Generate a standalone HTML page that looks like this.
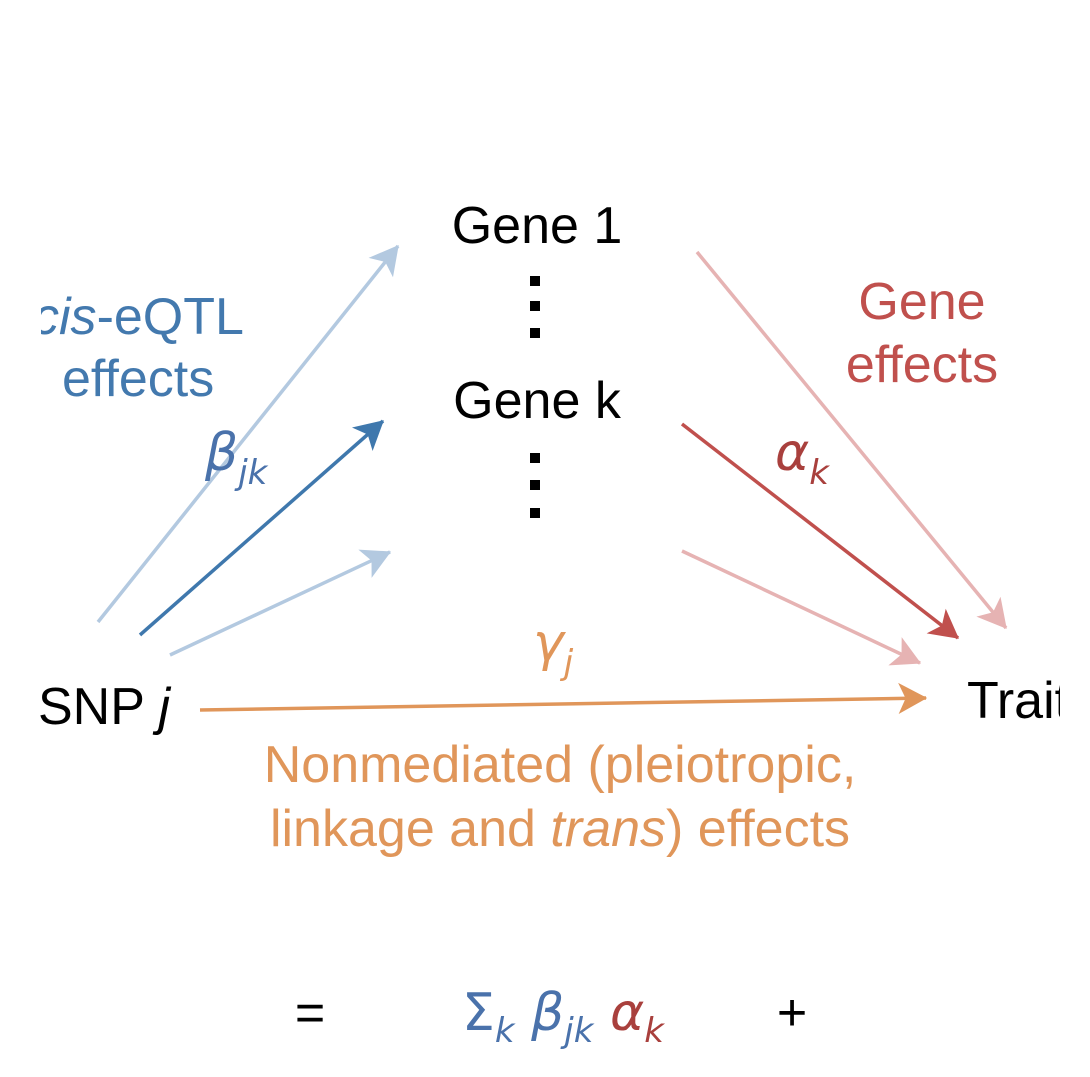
<!DOCTYPE html>
<html><head><meta charset="utf-8"><style>
body{margin:0;background:#fff;width:1090px;height:1077px;overflow:hidden}
svg{display:block}
text{font-family:"Liberation Sans",sans-serif;font-size:52px}
.it{font-style:italic;font-family:"DejaVu Sans","Liberation Sans",sans-serif}
</style></head><body>
<svg width="1090" height="1077" viewBox="0 0 1090 1077">
<defs>
<marker id="mlb" markerWidth="12" markerHeight="12" refX="9" refY="5" orient="auto" markerUnits="userSpaceOnUse" viewBox="0 0 10 10" style="overflow:visible"><path d="M-14,-8 L10,5 L-14,18 L-8,5 z" fill="#b3c9e0"/></marker>
<marker id="mdb" markerWidth="12" markerHeight="12" refX="9" refY="5" orient="auto" markerUnits="userSpaceOnUse" viewBox="0 0 10 10" style="overflow:visible"><path d="M-14,-8 L10,5 L-14,18 L-8,5 z" fill="#3f78ad"/></marker>
<marker id="mlr" markerWidth="12" markerHeight="12" refX="9" refY="5" orient="auto" markerUnits="userSpaceOnUse" viewBox="0 0 10 10" style="overflow:visible"><path d="M-14,-8 L10,5 L-14,18 L-8,5 z" fill="#e6b3b3"/></marker>
<marker id="mdr" markerWidth="12" markerHeight="12" refX="9" refY="5" orient="auto" markerUnits="userSpaceOnUse" viewBox="0 0 10 10" style="overflow:visible"><path d="M-14,-8 L10,5 L-14,18 L-8,5 z" fill="#c0504d"/></marker>
<marker id="mor" markerWidth="12" markerHeight="12" refX="9" refY="5" orient="auto" markerUnits="userSpaceOnUse" viewBox="0 0 10 10" style="overflow:visible"><path d="M-14,-8 L10,5 L-14,18 L-8,5 z" fill="#e0965a"/></marker>
</defs>
<g stroke-width="3.5" fill="none">
<line x1="98" y1="622" x2="398" y2="246" stroke="#b3c9e0" marker-end="url(#mlb)"/>
<line x1="140" y1="635" x2="383" y2="421" stroke="#3f78ad" marker-end="url(#mdb)"/>
<line x1="170" y1="655" x2="390" y2="552" stroke="#b3c9e0" marker-end="url(#mlb)"/>
<line x1="697" y1="252" x2="1006" y2="628" stroke="#e6b3b3" marker-end="url(#mlr)"/>
<line x1="682" y1="424" x2="958" y2="638" stroke="#c0504d" marker-end="url(#mdr)"/>
<line x1="682" y1="551" x2="920" y2="663" stroke="#e6b3b3" marker-end="url(#mlr)"/>
<line x1="200" y1="710" x2="926" y2="698" stroke="#e0965a" marker-end="url(#mor)"/>
</g>
<text x="537" y="243" text-anchor="middle">Gene 1</text>
<text x="537" y="418" text-anchor="middle">Gene k</text>
<g fill="#000">
<rect x="530" y="276" width="10" height="10"/><rect x="530" y="301" width="10" height="10"/><rect x="530" y="328" width="10" height="10"/>
<rect x="530" y="453" width="10" height="10"/><rect x="530" y="480" width="10" height="10"/><rect x="530" y="508" width="10" height="10"/>
</g>
<text x="33" y="334" fill="#4379ae"><tspan font-style="italic">cis</tspan>-eQTL</text>
<rect x="0" y="290" width="41" height="60" fill="#fff"/>
<text x="62" y="396" fill="#4379ae">effects</text>
<text x="922" y="319" text-anchor="middle" fill="#c0504d">Gene</text>
<text x="922" y="382" text-anchor="middle" fill="#c0504d">effects</text>
<text x="205" y="470" class="it" fill="#4a72ab">β<tspan dy="14" font-size="34">jk</tspan></text>
<text x="775" y="470" class="it" fill="#a9403d">α<tspan dy="14" font-size="34">k</tspan></text>
<text x="533" y="660" class="it" fill="#e0965a">γ<tspan dy="14" font-size="34">j</tspan></text>
<text x="38" y="724">SNP <tspan font-style="italic">j</tspan></text>
<text x="967" y="718">Trait</text>
<rect x="1060" y="670" width="30" height="60" fill="#fff"/>
<text x="560" y="782" text-anchor="middle" fill="#e0965a">Nonmediated (pleiotropic,</text>
<text x="560" y="846" text-anchor="middle" fill="#e0965a">linkage and <tspan font-style="italic">trans</tspan>) effects</text>
<text x="310" y="1030" text-anchor="middle">=</text>
<text x="462" y="1030" class="it" fill="#4a72ab"><tspan font-style="normal">Σ</tspan><tspan dy="12" font-size="34">k</tspan><tspan dy="-12"> β</tspan><tspan dy="12" font-size="34">jk</tspan><tspan dy="-12" fill="#a9403d"> α</tspan><tspan dy="12" font-size="34" fill="#a9403d">k</tspan></text>
<text x="792" y="1030" text-anchor="middle">+</text>
</svg>
</body></html>
